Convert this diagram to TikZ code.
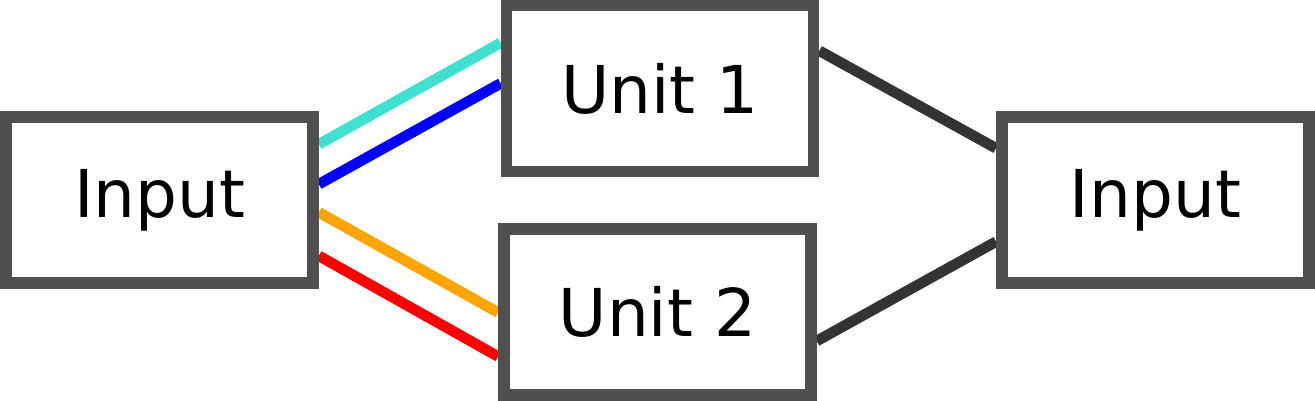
\documentclass[tikz,border=0pt]{standalone}
\usepackage{fontspec}
\setmainfont{DejaVu Sans}
\usepackage{tikz}
\usetikzlibrary{backgrounds}
\definecolor{boxgray}{HTML}{4F4F4F}
\definecolor{linkdark}{HTML}{333333}
\definecolor{turq}{HTML}{40E0D0}
\definecolor{orng}{HTML}{FFA500}
\tikzset{
  unit/.style ={rectangle, draw=boxgray, fill=white, line width=11.7pt,
                minimum width=307pt, minimum height=166pt, inner sep=0pt,
                font=\fontsize{66}{78}\selectfont},
  lnk/.style  ={line width=10.6pt},
}
\begin{document}
\begin{tikzpicture}[x=1pt, y=-1pt]
  \useasboundingbox (0,0) rectangle (1315,401);
  \node[unit] (inL) at (159.5,200.25) {Input};
  \node[unit] (u1)  at (660,88.5)     {Unit 1};
  \node[unit] (u2)  at (657.4,312)    {Unit 2};
  \node[unit] (inR) at (1155.4,200.25) {Input};
  \begin{scope}[on background layer]
    \draw[lnk, turq]     ([yshift=56pt]inL.east)   -- ([yshift=45.6pt]u1.west);
    \draw[lnk, blue]     ([yshift=16.1pt]inL.east) -- ([yshift=5.1pt]u1.west);
    \draw[lnk, orng]     ([yshift=-12.1pt]inL.east) -- ([yshift=-0.5pt]u2.west);
    \draw[lnk, red]      ([yshift=-55.6pt]inL.east) -- ([yshift=-44.5pt]u2.west);
    \draw[lnk, linkdark] ([yshift=37.7pt]u1.east)  -- ([yshift=52pt]inR.west);
    \draw[lnk, linkdark] ([yshift=-29pt]u2.east)   -- ([yshift=-41.4pt]inR.west);
  \end{scope}
\end{tikzpicture}
\end{document}
